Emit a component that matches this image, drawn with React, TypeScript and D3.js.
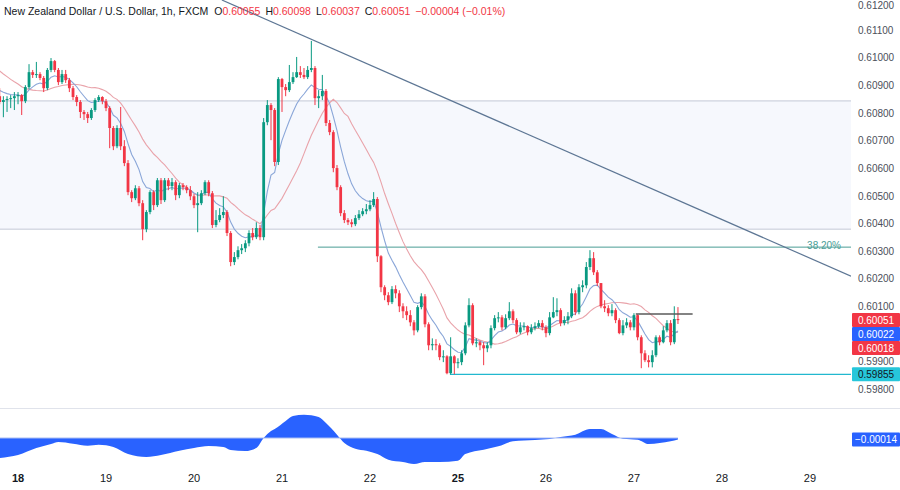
import React from 'react';
import * as d3 from 'd3';

// ---------- DATA ----------
const priorCloses = [
  0.61064, 0.61057, 0.61046, 0.61050, 0.61035, 0.61028, 0.61039, 0.61021, 0.61010, 0.60992,
  0.60974, 0.60938, 0.60912, 0.60890, 0.60876, 0.60865, 0.60861, 0.60869, 0.60876, 0.60861,
];

const closes = [
  0.60840, 0.60847, 0.60851, 0.60854, 0.60861, 0.60865, 0.60843, 0.60894, 0.60948, 0.60938,
  0.60941, 0.60927, 0.60890, 0.60956, 0.60988, 0.60956, 0.60912, 0.60941, 0.60919, 0.60890,
  0.60858, 0.60840, 0.60804, 0.60796, 0.60782, 0.60811, 0.60847, 0.60858, 0.60843, 0.60818,
  0.60746, 0.60680, 0.60746, 0.60680, 0.60619, 0.60514, 0.60492, 0.60528, 0.60474, 0.60380,
  0.60442, 0.60514, 0.60467, 0.60557, 0.60485, 0.60557, 0.60536, 0.60550, 0.60503, 0.60539,
  0.60532, 0.60521, 0.60499, 0.60467, 0.60474, 0.60510, 0.60550, 0.60510, 0.60395, 0.60413,
  0.60431, 0.60442, 0.60366, 0.60261, 0.60279, 0.60304, 0.60311, 0.60329, 0.60366, 0.60351,
  0.60384, 0.60351, 0.60767, 0.60829, 0.60811, 0.60623, 0.60923, 0.60894, 0.60883, 0.60912,
  0.60930, 0.60948, 0.60938, 0.60930, 0.60956, 0.60963, 0.60854, 0.60861, 0.60880, 0.60764,
  0.60731, 0.60601, 0.60532, 0.60438, 0.60413, 0.60405, 0.60398, 0.60420, 0.60434, 0.60445,
  0.60452, 0.60467, 0.60489, 0.60282, 0.60170, 0.60141, 0.60116, 0.60163, 0.60148, 0.60101,
  0.60083, 0.60069, 0.60043, 0.60014, 0.60098, 0.60137, 0.60036, 0.59960, 0.59964, 0.59960,
  0.59917, 0.59920, 0.59859, 0.59920, 0.59895, 0.59899, 0.59931, 0.60032, 0.60105, 0.59967,
  0.59971, 0.59960, 0.59949, 0.59960, 0.60022, 0.60058, 0.60061, 0.60025, 0.60058, 0.60083,
  0.60051, 0.60007, 0.60025, 0.60029, 0.60007, 0.60022, 0.60029, 0.60040, 0.60025, 0.60004,
  0.60061, 0.60080, 0.60087, 0.60040, 0.60051, 0.60065, 0.60148, 0.60080, 0.60170, 0.60177,
  0.60243, 0.60275, 0.60224, 0.60185, 0.60101, 0.60094, 0.60076, 0.60087, 0.60051, 0.60004,
  0.60032, 0.60043, 0.60025, 0.60069, 0.59989, 0.59931, 0.59906, 0.59899, 0.59924, 0.59989,
  0.59971, 0.60014, 0.60040, 0.59971, 0.60055, 0.60051,
];

const highs = [
  0.60890, 0.60861, 0.60861, 0.60865, 0.60876, 0.60876, 0.60869, 0.60901, 0.60977, 0.60956,
  0.60985, 0.60948, 0.60934, 0.60963, 0.60999, 0.60992, 0.60963, 0.60956, 0.60956, 0.60927,
  0.60898, 0.60865, 0.60847, 0.60811, 0.60804, 0.60818, 0.60854, 0.60865, 0.60861, 0.60851,
  0.60825, 0.60753, 0.60756, 0.60822, 0.60702, 0.60630, 0.60521, 0.60539, 0.60536, 0.60485,
  0.60449, 0.60521, 0.60521, 0.60565, 0.60565, 0.60565, 0.60565, 0.60565, 0.60557, 0.60547,
  0.60547, 0.60539, 0.60536, 0.60507, 0.60514, 0.60521, 0.60557, 0.60557, 0.60518, 0.60449,
  0.60456, 0.60499, 0.60449, 0.60373, 0.60297, 0.60318, 0.60326, 0.60340, 0.60376, 0.60384,
  0.60405, 0.60395, 0.60782, 0.60847, 0.60836, 0.60818, 0.60930, 0.60927, 0.60905, 0.60974,
  0.60948, 0.61003, 0.60970, 0.60963, 0.60970, 0.61061, 0.60970, 0.60883, 0.60938, 0.60887,
  0.60775, 0.60738, 0.60612, 0.60539, 0.60449, 0.60420, 0.60416, 0.60431, 0.60449, 0.60456,
  0.60471, 0.60485, 0.60514, 0.60496, 0.60286, 0.60177, 0.60152, 0.60174, 0.60177, 0.60159,
  0.60112, 0.60101, 0.60087, 0.60051, 0.60105, 0.60148, 0.60145, 0.60043, 0.59985, 0.59982,
  0.59967, 0.59942, 0.59924, 0.59989, 0.59924, 0.59913, 0.59942, 0.60043, 0.60130, 0.60112,
  0.59985, 0.59978, 0.59971, 0.59971, 0.60032, 0.60069, 0.60080, 0.60069, 0.60072, 0.60116,
  0.60090, 0.60058, 0.60043, 0.60043, 0.60032, 0.60036, 0.60043, 0.60051, 0.60051, 0.60032,
  0.60080, 0.60134, 0.60130, 0.60094, 0.60065, 0.60080, 0.60166, 0.60159, 0.60181, 0.60195,
  0.60261, 0.60304, 0.60297, 0.60232, 0.60185, 0.60123, 0.60105, 0.60109, 0.60094, 0.60058,
  0.60051, 0.60058, 0.60051, 0.60076, 0.60072, 0.59996, 0.59942, 0.59924, 0.59942, 0.59996,
  0.59996, 0.60029, 0.60051, 0.60051, 0.60101, 0.60098,
];

const lows = [
  0.60832, 0.60785, 0.60804, 0.60818, 0.60811, 0.60832, 0.60793, 0.60836, 0.60887, 0.60927,
  0.60927, 0.60919, 0.60876, 0.60883, 0.60948, 0.60948, 0.60901, 0.60905, 0.60909, 0.60876,
  0.60847, 0.60825, 0.60782, 0.60775, 0.60764, 0.60775, 0.60804, 0.60840, 0.60832, 0.60807,
  0.60673, 0.60666, 0.60673, 0.60666, 0.60608, 0.60503, 0.60478, 0.60485, 0.60463, 0.60340,
  0.60369, 0.60434, 0.60449, 0.60460, 0.60471, 0.60478, 0.60521, 0.60521, 0.60485, 0.60492,
  0.60521, 0.60510, 0.60485, 0.60456, 0.60369, 0.60467, 0.60503, 0.60499, 0.60384, 0.60387,
  0.60405, 0.60420, 0.60355, 0.60246, 0.60250, 0.60271, 0.60290, 0.60297, 0.60318, 0.60340,
  0.60344, 0.60340, 0.60340, 0.60756, 0.60702, 0.60608, 0.60612, 0.60804, 0.60861, 0.60876,
  0.60905, 0.60927, 0.60927, 0.60923, 0.60923, 0.60948, 0.60829, 0.60818, 0.60847, 0.60753,
  0.60720, 0.60586, 0.60521, 0.60427, 0.60402, 0.60395, 0.60387, 0.60391, 0.60413, 0.60427,
  0.60434, 0.60445, 0.60460, 0.60261, 0.60152, 0.60123, 0.60105, 0.60109, 0.60130, 0.60080,
  0.60058, 0.60051, 0.60029, 0.59996, 0.60007, 0.60090, 0.60025, 0.59942, 0.59942, 0.59942,
  0.59906, 0.59899, 0.59855, 0.59855, 0.59855, 0.59877, 0.59888, 0.59924, 0.60025, 0.59960,
  0.59953, 0.59942, 0.59888, 0.59935, 0.59949, 0.60014, 0.60043, 0.60014, 0.60018, 0.60051,
  0.60040, 0.60000, 0.60000, 0.60014, 0.59996, 0.60000, 0.60014, 0.60022, 0.60014, 0.59989,
  0.59996, 0.60058, 0.60065, 0.60029, 0.60032, 0.60036, 0.60058, 0.60069, 0.60072, 0.60152,
  0.60166, 0.60232, 0.60214, 0.60174, 0.60094, 0.60080, 0.60065, 0.60065, 0.60040, 0.60000,
  0.59996, 0.60022, 0.60014, 0.60014, 0.59978, 0.59877, 0.59899, 0.59880, 0.59880, 0.59917,
  0.59960, 0.59967, 0.60007, 0.59960, 0.59964, 0.60037,
];

// oscillator
const oscIndex = [0, 5, 10, 14, 16, 20, 24, 27, 31, 35, 40, 44, 49, 53, 57, 61, 63, 67, 70, 72, 74, 75, 78, 80, 83, 87, 89, 92, 94, 97, 100, 103, 106, 110, 113, 116, 120, 125, 127, 132, 136, 140, 146, 150, 153, 157, 161, 164, 167, 170, 174, 177, 180, 183, 185];
const oscValue = [-0.00180, -0.00153, -0.00090, -0.00054, -0.00036, -0.00051, -0.00069, -0.00060, -0.00081, -0.00144, -0.00171, -0.00153, -0.00114, -0.00090, -0.00072, -0.00081, -0.00108, -0.00117, -0.00090, 0.00000, 0.00063, 0.00081, 0.00153, 0.00198, 0.00210, 0.00189, 0.00135, 0.00030, -0.00045, -0.00096, -0.00114, -0.00144, -0.00195, -0.00216, -0.00234, -0.00216, -0.00216, -0.00204, -0.00144, -0.00105, -0.00075, -0.00030, -0.00018, -0.00009, 0.00009, 0.00030, 0.00081, 0.00081, 0.00036, -0.00006, -0.00015, -0.00054, -0.00045, -0.00030, -0.00014];
const oscLastLabel = -0.00014;

const dayTickIndex = [5, 29, 53, 77, 101, 125, 149, 173, 197, 221];
const dayTickLabels = ['18', '19', '20', '21', '22', '25', '26', '27', '28', '29'];
const dayTickBold = [true, false, false, false, false, true, false, false, false, false];

const priceTicks = [0.612, 0.611, 0.610, 0.609, 0.608, 0.607, 0.606, 0.605, 0.604, 0.603, 0.602, 0.601, 0.600, 0.599, 0.598];

const zoneTop = 0.60844;
const zoneBottom = 0.60380;
const fibLevel = 0.60315;
const fibStartIndex = 86.8;
const fibText = '38.20%';
const lowLevel = 0.59855;
const lowStartIndex = 122.8;
const markLevel = 0.60073;
const markStartIndex = 173.5;
const markEndIndex = 189;
const trendIndex = [60.6, 232.2];
const trendPrice = [0.61209, 0.60210];

const maLabelValues = [0.60022, 0.60018];

const titleText = 'New Zealand Dollar / U.S. Dollar, 1h, FXCM';
const ohlcLetters = ['O', 'H', 'L', 'C'];
const ohlcValues = ['0.60055', '0.60098', '0.60037', '0.60051'];
const changeText = '\u22120.00004 (\u22120.01%)';

// ---------- CHART ----------
const UP = '#089981';
const DOWN = '#F23645';
const FONT = '"Liberation Sans", Arial, sans-serif';

export default function App() {
  const W = 900;
  const H = 490;
  const plotRight = 851;
  const paneBottom = 408;

  const x = d3.scaleLinear().domain([0, 232.2]).range([-0.3, 851]);
  const y = d3.scaleLinear().domain([0.598, 0.612]).range([389.5, 2.5]);
  const yO = d3.scaleLinear().domain([-0.00252, 0.00234]).range([466, 412]);

  const P = priorCloses.length;
  const allC = [...priorCloses, ...closes];
  const k = 2 / (9 + 1);
  const ema: number[] = [];
  allC.forEach((c, j) => ema.push(j === 0 ? c : ema[j - 1] + k * (c - ema[j - 1])));
  const sma: number[] = allC.map((_, j) => (j < 19 ? NaN : (d3.mean(allC.slice(j - 19, j + 1)) as number)));

  const idx = d3.range(closes.length);
  const emaVis = idx.map((i) => ema[i + P]);
  const smaVis = idx.map((i) => sma[i + P]);

  const line = d3
    .line<number>()
    .x((_, i) => x(i))
    .y((d) => y(d));

  const oscPts: [number, number][] = oscIndex.map((i, j) => [i, oscValue[j]]);
  const area = d3
    .area<[number, number]>()
    .x((d) => x(d[0]))
    .y0(yO(0))
    .y1((d) => yO(d[1]))
    .curve(d3.curveMonotoneX);

  const bodyW = 2.8;

  // right-side labels with stacking
  const lastOpen = allC[P + closes.length - 2];
  const lastClose = closes[closes.length - 1];
  type Lab = { v: number; text: string; fill: string; color: string; cy: number };
  const labs: Lab[] = [
    { v: lastClose, text: lastClose.toFixed(5), fill: lastClose >= lastOpen ? UP : DOWN, color: '#fff', cy: 0 },
    { v: maLabelValues[0], text: maLabelValues[0].toFixed(5), fill: '#2962FF', color: '#fff', cy: 0 },
    { v: maLabelValues[1], text: maLabelValues[1].toFixed(5), fill: DOWN, color: '#fff', cy: 0 },
  ];
  let prev = -Infinity;
  labs.forEach((l) => {
    let c = y(l.v);
    if (c < prev + 14) c = prev + 14;
    l.cy = c;
    prev = c;
  });
  const lowLab = { text: lowLevel.toFixed(5), cy: y(lowLevel) };
  const boxCenters = [...labs.map((l) => l.cy), lowLab.cy];

  const ticksShown = priceTicks.filter((t) => boxCenters.every((c) => Math.abs(y(t) - c) > 11));

  return (
    <svg
      width={W}
      height={H}
      style={{ position: 'absolute', left: 0, top: 0, background: '#fff' }}
      fontFamily={FONT}
    >
      <defs>
        <clipPath id="plot">
          <rect x={0} y={0} width={plotRight} height={paneBottom} />
        </clipPath>
        <clipPath id="osc">
          <rect x={0} y={paneBottom + 1} width={plotRight} height={62} />
        </clipPath>
      </defs>
      <rect x={0} y={0} width={W} height={H} fill="#fff" />

      <g clipPath="url(#plot)">
        {/* zone */}
        <rect x={0} y={y(zoneTop)} width={plotRight} height={y(zoneBottom) - y(zoneTop)} fill="#f6f8fd" />
        <line x1={0} x2={plotRight} y1={y(zoneTop)} y2={y(zoneTop)} stroke="#c3c8d6" strokeWidth={1} />
        <line x1={0} x2={plotRight} y1={y(zoneBottom)} y2={y(zoneBottom)} stroke="#c3c8d6" strokeWidth={1} />

        {/* fib level */}
        <line x1={x(fibStartIndex)} x2={plotRight} y1={y(fibLevel)} y2={y(fibLevel)} stroke="#4a9d95" strokeWidth={1} />
        {/* low level */}
        <line x1={x(lowStartIndex)} x2={plotRight} y1={y(lowLevel)} y2={y(lowLevel)} stroke="#22b8cf" strokeWidth={1.2} />

        {/* trendline */}
        <line
          x1={x(trendIndex[0])}
          y1={y(trendPrice[0])}
          x2={x(trendIndex[1])}
          y2={y(trendPrice[1])}
          stroke="#5d7694"
          strokeWidth={1.2}
        />

        {/* moving averages */}
        <path d={line(smaVis) || ''} fill="none" stroke="#e9a3aa" strokeWidth={1.1} />
        <path d={line(emaVis) || ''} fill="none" stroke="#8aa6d8" strokeWidth={1.1} />

        {/* candles */}
        {idx.map((i) => {
          const o = allC[i + P - 1];
          const c = closes[i];
          const hi = Math.max(highs[i], o, c);
          const lo = Math.min(lows[i], o, c);
          const col = c >= o ? UP : DOWN;
          const cx = x(i);
          const top = y(Math.max(o, c));
          const bh = Math.max(1, y(Math.min(o, c)) - top);
          return (
            <g key={i}>
              <line x1={cx} x2={cx} y1={y(hi)} y2={y(lo)} stroke={col} strokeWidth={1} />
              <rect x={cx - bodyW / 2} y={top} width={bodyW} height={bh} fill={col} />
            </g>
          );
        })}

        {/* mark level */}
        <line x1={x(markStartIndex)} x2={x(markEndIndex)} y1={y(markLevel)} y2={y(markLevel)} stroke="#5a5a5a" strokeWidth={1.5} />

        {/* fib label */}
        <text x={plotRight - 10} y={y(fibLevel) + 2} textAnchor="end" fontSize={10} fill="#4a9d95">
          {fibText}
        </text>
      </g>

      {/* title */}
      <text x={4} y={15} fontSize={10.5} fill="#131722">
        <tspan>{titleText}</tspan>
        {ohlcLetters.map((l, j) => (
          <React.Fragment key={l}>
            <tspan dx={j === 0 ? 6 : 5}>{l}</tspan>
            <tspan fill={DOWN}>{ohlcValues[j]}</tspan>
          </React.Fragment>
        ))}
        <tspan dx={5} fill={DOWN}>
          {changeText}
        </tspan>
      </text>

      {/* price axis ticks */}
      {ticksShown.map((t) => (
        <text key={t} x={858} y={Math.max(9, y(t) + 3.5)} fontSize={10} fill="#4b4f5a">
          {t.toFixed(5)}
        </text>
      ))}

      {/* right labels */}
      {labs.map((l, j) => (
        <g key={j}>
          <rect x={852} y={l.cy - 7} width={48} height={14} fill={l.fill} rx={1} />
          <text x={876} y={l.cy + 3.5} fontSize={10} fill={l.color} textAnchor="middle">
            {l.text}
          </text>
        </g>
      ))}
      <rect x={852} y={lowLab.cy - 7} width={48} height={14} fill="#26c6da" rx={1} />
      <text x={876} y={lowLab.cy + 3.5} fontSize={10} fill="#131722" textAnchor="middle">
        {lowLab.text}
      </text>

      {/* pane separator */}
      <line x1={0} x2={W} y1={paneBottom + 0.5} y2={paneBottom + 0.5} stroke="#e0e3eb" strokeWidth={1} />

      {/* oscillator */}
      <g clipPath="url(#osc)">
        <path d={area(oscPts) || ''} fill="#2962FF" />
        <line x1={0} x2={x(oscIndex[oscIndex.length - 1])} y1={yO(0)} y2={yO(0)} stroke="#a9bdf3" strokeWidth={1} />
      </g>
      <rect x={852} y={yO(oscLastLabel) - 7} width={48} height={14} fill="#2962FF" rx={1} />
      <text x={876} y={yO(oscLastLabel) + 3.5} fontSize={10} fill="#fff" textAnchor="middle">
        {oscLastLabel.toFixed(5).replace('-', '\u2212')}
      </text>

      {/* time axis */}
      {dayTickIndex.map((i, j) => (
        <text
          key={j}
          x={x(i)}
          y={482}
          fontSize={11}
          textAnchor="middle"
          fill="#131722"
          fontWeight={dayTickBold[j] ? 'bold' : 'normal'}
        >
          {dayTickLabels[j]}
        </text>
      ))}
    </svg>
  );
}
